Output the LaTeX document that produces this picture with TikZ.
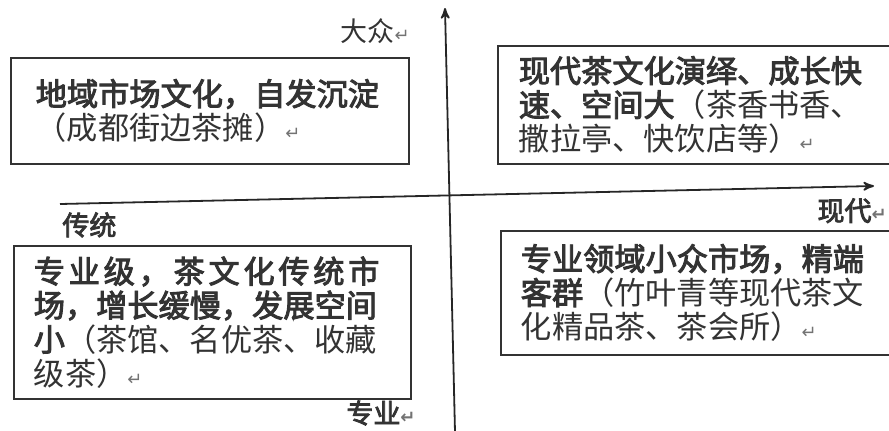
\documentclass[tikz,border=0pt]{standalone}
\usepackage{fontspec}
\setmainfont{Noto Sans CJK SC}[BoldFont={Noto Sans CJK SC}, BoldFeatures={FakeBold=3}]
\newfontfamily\symfont{DejaVu Sans}
\usetikzlibrary{arrows,positioning}
\newcommand{\retmark}{{\symfont\fontsize{9}{9}\selectfont\textcolor{black!55}{↵}}}
\newcommand{\wide}{\addfontfeature{LetterSpace=12}}

\begin{document}
\begin{tikzpicture}[
		x=0.5pt, y=-0.5pt,
		> = stealth',
		quad/.style = {draw=black!80, line width=0.8pt, anchor=north west, align=left,
			inner ysep=0pt, text=black!80, font=\fontsize{15.6}{17}\selectfont},
		axislabel/.style = {inner sep=0pt, text=black!80, font=\fontsize{13.5}{14}\selectfont},
		axis/.style = {->, line width=0.9pt, draw=black!85}
		]
		\useasboundingbox (0,0) rectangle (889,430);

		% the two axes
		\coordinate (ybot) at (455,432);
		\coordinate (ytop) at (445,8);
		\coordinate (xleft) at (60,204);
		\coordinate (xright) at (874,186);
		\draw[axis] (ybot) -- (ytop);
		\draw[axis] (xleft) -- (xright);

		% axis labels
		\node[axislabel, below left=5pt and 17.5pt of ytop] (mass) {大众\retmark};
		\node[axislabel, anchor=north east, font=\fontsize{13.5}{14}\bfseries] at ([shift={(13,12)}]xright) (modern) {现代\retmark};
		\node[axislabel, below right=4pt and 1pt of xleft, font=\fontsize{13.5}{14}\bfseries] (trad) {传统};
		\node[axislabel, font=\fontsize{13.5}{14}\bfseries] at (381,413) (pro) {专业\retmark};

		% the four quadrants
		\node[quad, inner xsep=12.5pt, text width=174pt, minimum height=53pt] at (10,57) (q2)
			{\textbf{地域市场文化，自发沉淀}\\（成都街边茶摊）\retmark};
		\node[quad, inner xsep=10.5pt, text width=179pt, minimum height=59pt] at (497,45) (q1)
			{\textbf{现代茶文化演绎、成长快}\\\textbf{速、空间大}（茶香书香、\\撒拉亭、快饮店等）\retmark};
		\node[quad, inner xsep=10pt, text width=178.5pt, minimum height=76.5pt] at (13,245) (q3)
			{{\wide\textbf{专业级，茶文化传统市}}\\\textbf{场，增长缓慢，发展空间}\\\textbf{小}（茶馆、名优茶、收藏\\级茶）\retmark};
		\node[quad, inner xsep=10pt, text width=180pt, minimum height=62pt] at (500,230) (q4)
			{\textbf{专业领域小众市场，精端}\\\textbf{客群}（竹叶青等现代茶文\\化精品茶、茶会所）\retmark};
\end{tikzpicture}
\end{document}
